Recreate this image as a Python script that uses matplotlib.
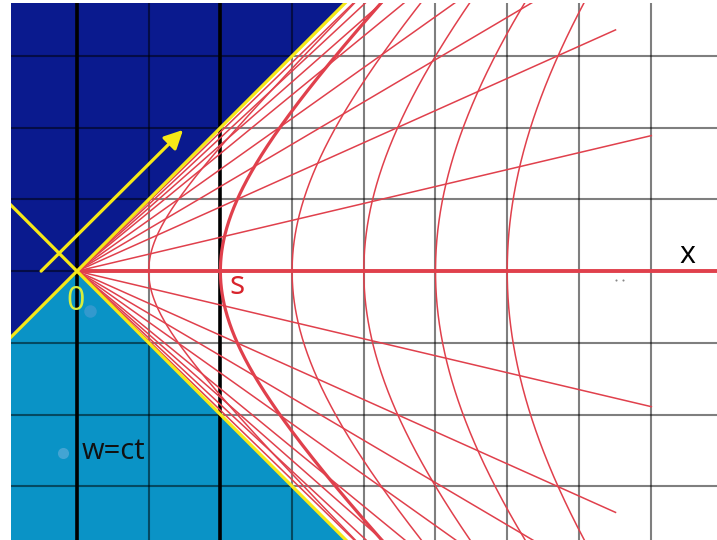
import numpy as np
import matplotlib.pyplot as plt

# slopes (v = ct/x) of the rays from the origin, same set above and below the x axis
ray_slopes = [0.236, 0.448, 0.59, 0.71, 0.82, 0.88, 0.93, 0.97]
ray_length = 8.23
# invariant intervals s of the hyperbolas x^2 - (ct)^2 = s^2
hyper_s = [1, 2, 3, 4, 5, 6]
thick_s = 2
grid_x = [0, 1, 2, 3, 4, 5, 6, 7, 8]
grid_t = [-3, -2, -1, 0, 1, 2, 3]
thick_x = [0, 2]

xmin, xmax = -0.92, 8.926
tmin, tmax = -3.75, 3.74

dark_blue = '#0a1a8e'
light_blue = '#0a93c6'
yellow = '#f6e817'
red = '#e0404c'

fig = plt.figure(figsize=(7.17, 5.4), dpi=100)
ax = fig.add_axes([11 / 717, 0, 706 / 717, 537 / 540])
ax.set_xlim(xmin, xmax)
ax.set_ylim(tmin, tmax)
ax.axis('off')

# coloured regions
ax.fill([xmin, tmax, xmin], [xmin, tmax, tmax], color=dark_blue, lw=0, zorder=0)
ax.fill([xmin, 0, -tmin, xmin], [xmin, 0, tmin, tmin], color=light_blue, lw=0, zorder=0)

# grid
for gx in grid_x:
    ax.axvline(gx, color='black', alpha=0.5, lw=1.5, zorder=1)
for gt in grid_t:
    ax.axhline(gt, color='black', alpha=0.5, lw=1.5, zorder=1)
for gx in thick_x:
    ax.axvline(gx, color='black', lw=2.6, zorder=2)

# hyperbolas
tt = np.linspace(tmin, tmax, 400)
for s in hyper_s:
    lw = 2.3 if s == thick_s else 1.1
    ax.plot(np.sqrt(s ** 2 + tt ** 2), tt, color=red, lw=lw, zorder=3)

# rays
for v in ray_slopes:
    ang = np.arctan(v)
    for sign in (1, -1):
        ax.plot([0, ray_length * np.cos(ang)], [0, sign * ray_length * np.sin(ang)],
                color=red, lw=1.1, zorder=3)
ax.plot([0, xmax], [0, 0], color=red, lw=2.8, zorder=3)

# light cone
ax.plot([xmin, tmax], [xmin, tmax], color=yellow, lw=2.3, zorder=4)
ax.plot([xmin, -tmin], [-xmin, tmin], color=yellow, lw=2.3, zorder=4)
ax.annotate('', xy=(1.48, 1.97), xytext=(-0.5, 0),
            arrowprops=dict(arrowstyle='-|>', color=yellow, lw=2.3, mutation_scale=28,
                            shrinkA=0, shrinkB=0), zorder=5)

# small artefacts
ax.plot([0.18], [-0.55], 'o', color='#5b9fd6', alpha=0.5, ms=9, mec='none', zorder=4)
ax.plot([-0.2], [-2.53], 'o', color='#6ab0dc', alpha=0.6, ms=8, mec='none', zorder=4)
ax.plot([7.52, 7.61], [-0.12, -0.12], 'o', color='#888888', ms=1.5, mec='none', zorder=4)

# labels
font = ['Open Sans', 'DejaVu Sans']
ax.text(8.51, 0.22, 'x', fontsize=22, color='black', ha='center', va='center', family=font)
ax.text(2.23, -0.2, 's', fontsize=23, color='#d8242c', ha='center', va='center', family=font)
ax.text(-0.02, -0.43, '0', fontsize=23, color='#d9ef3c', ha='center', va='center', family=font)
ax.text(0.07, -2.52, 'w=ct', fontsize=21, color='#111111', ha='left', va='center', family=font)

fig.savefig('out.png', dpi=100)
